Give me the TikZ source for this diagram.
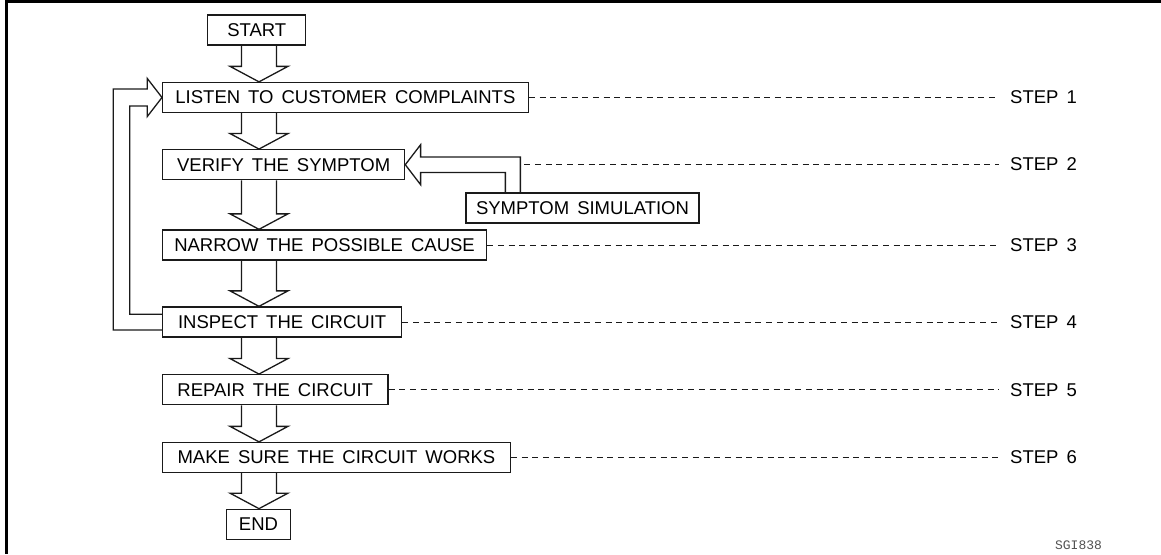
\documentclass[tikz,border=0pt]{standalone}
\usepackage{fontspec}
\setmainfont{Liberation Sans}
\newfontfamily\monof{Liberation Mono}
\usetikzlibrary{calc}
\definecolor{ink}{HTML}{1A1A1A}
\newcommand\labfont{\fontsize{18.5}{20}\selectfont\spaceskip=8pt\relax}
\begin{document}
\begin{tikzpicture}[x=1pt,y=-1pt,
  boxnode/.style={draw=ink,line width=1.3pt,minimum height=30pt,inner sep=0pt,anchor=west,
    font=\labfont},
  stepnode/.style={anchor=west,inner xsep=11pt,inner ysep=0pt,font=\labfont},
  blk/.style={draw=ink,line width=1.3pt,line join=miter},
  dashline/.style={draw=ink,line width=1pt,dash pattern=on 6pt off 4.7pt}]
\useasboundingbox (0,0) rectangle (1161,554);
% frame
\draw[line width=2.6pt] (5,1.3) -- (1161,1.3);
\draw[line width=3pt] (6.3,0) -- (6.3,554);
\coordinate (col) at (259,0);
% nodes
\node[boxnode,minimum width=98pt,anchor=center] (start) at (256.8,30) {START};
\node[boxnode,minimum width=365.5pt] (listen) at (162,97.5) {LISTEN TO CUSTOMER COMPLAINTS};
\node[boxnode,minimum width=242pt] (verify) at (162,164.7) {VERIFY THE SYMPTOM};
\node[boxnode,minimum width=233pt,anchor=center] (sim) at (582.5,208) {SYMPTOM SIMULATION};
\node[boxnode,minimum width=323.8pt] (narrow) at (162,245) {NARROW THE POSSIBLE CAUSE};
\node[boxnode,minimum width=239pt] (inspect) at (162,322) {INSPECT THE CIRCUIT};
\node[boxnode,minimum width=225.2pt] (repair) at (162,389.7) {REPAIR THE CIRCUIT};
\node[boxnode,minimum width=347.6pt] (make) at (162,457.5) {MAKE SURE THE CIRCUIT WORKS};
\node[boxnode,minimum width=63.8pt,anchor=center] (end) at (258.5,524.3) {END};
\foreach \n/\yy in {1/97.5,2/164.2,3/245,4/322,5/389.7,6/457.5}
  \node[stepnode] (s\n) at (999,\yy) {STEP \n};
\node[font=\monof\fontsize{13}{14}\selectfont,text=black!68,inner sep=0pt] (code) at (1078.5,545) {SGI838};
\coordinate (simL) at ($(sim.north west)+(40,0)$);
\coordinate (simR) at ($(sim.north west)+(55,0)$);
% block arrows
\newcommand\blkarrow[2]{%
  \draw[blk] ($(col|-#1.south)+(-17.5,0)$) -- ($(col|-#2.north)+(-17.5,-15.5)$)
    -- ($(col|-#2.north)+(-29,-15.5)$) -- (col|-#2.north)
    -- ($(col|-#2.north)+(29,-15.5)$) -- ($(col|-#2.north)+(17.5,-15.5)$)
    -- ($(col|-#1.south)+(17.5,0)$);}
\blkarrow{start}{listen}
\blkarrow{listen}{verify}
\blkarrow{verify}{narrow}
\blkarrow{narrow}{inspect}
\blkarrow{inspect}{repair}
\blkarrow{repair}{make}
\blkarrow{make}{end}
% feedback arrow
\draw[blk] ($(inspect.west)+(0,8)$) -- ($(inspect.west)+(-48.7,8)$)
  |- ($(listen.west)+(-14.7,-8.5)$) -- ($(listen.west)+(-14.7,-19)$)
  -- (listen.west) -- ($(listen.west)+(-14.7,19)$) -- ($(listen.west)+(-14.7,8.5)$)
  -| ($(inspect.west)+(-32.2,-7.7)$) -- ($(inspect.west)+(0,-7.7)$);
% symptom simulation arrow
\draw[blk] (simL) |- ($(verify.east)+(15.3,7.7)$)
  -- ($(verify.east)+(15.3,20)$) -- (verify.east) -- ($(verify.east)+(15.3,-20)$)
  -- ($(verify.east)+(15.3,-7.7)$) -| (simR);
% dashed leaders
\draw[dashline] (listen.east) -- (s1.west);
\draw[dashline,shorten <=4pt] (simR |- s2.west) -- (s2.west);
\draw[dashline] (narrow.east) -- (s3.west);
\draw[dashline] (inspect.east) -- (s4.west);
\draw[dashline] (repair.east) -- (s5.west);
\draw[dashline] (make.east) -- (s6.west);
\end{tikzpicture}
\end{document}
